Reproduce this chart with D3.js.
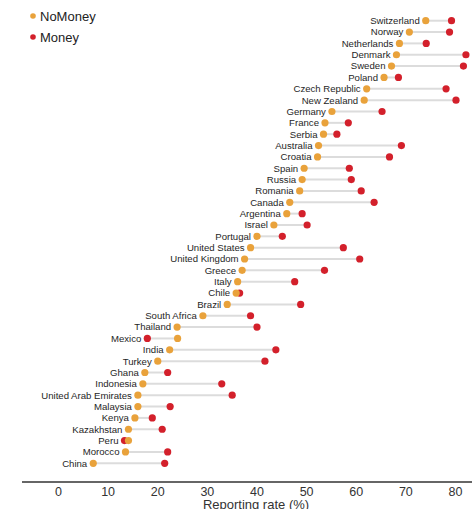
<!DOCTYPE html>
<html>
<head>
<meta charset="utf-8">
<script src="https://cdn.jsdelivr.net/npm/d3@7"></script>
<style>
  body { margin: 0; background: #fff; }
  svg { font-family: "Liberation Sans", Arial, sans-serif; }
</style>
</head>
<body>
<svg id="chart" width="472" height="509"></svg>
<script>
const countries = ["Switzerland", "Norway", "Netherlands", "Denmark", "Sweden", "Poland",
    "Czech Republic", "New Zealand", "Germany", "France", "Serbia", "Australia", "Croatia",
    "Spain", "Russia", "Romania", "Canada", "Argentina", "Israel", "Portugal", "United States",
    "United Kingdom", "Greece", "Italy", "Chile", "Brazil", "South Africa", "Thailand", "Mexico",
    "India", "Turkey", "Ghana", "Indonesia", "United Arab Emirates", "Malaysia", "Kenya",
    "Kazakhstan", "Peru", "Morocco", "China"];

const noMoney = [74.1, 70.8, 68.8, 68.2, 67.2, 65.7, 62.2, 61.7, 55.2, 53.8, 53.5, 52.5, 52.3,
    49.6, 49.2, 48.7, 46.7, 46.1, 43.5, 40.1, 38.8, 37.6, 37.1, 36.2, 35.9, 34.1, 29.2, 24.0, 24.1,
    22.5, 20.1, 17.5, 17.1, 16.1, 16.1, 15.5, 14.2, 14.2, 13.6, 7.1];

const money = [79.3, 78.9, 74.2, 82.2, 81.7, 68.6, 78.2, 80.2, 65.3, 58.5, 56.2, 69.2, 66.8,
    58.7, 59.1, 61.1, 63.7, 49.2, 50.2, 45.2, 57.5, 60.8, 53.7, 47.7, 36.6, 48.9, 38.8, 40.1, 18.0,
    43.9, 41.7, 22.1, 33.0, 35.1, 22.6, 19.0, 21.0, 13.4, 22.1, 21.5];

const xTicks = [0, 10, 20, 30, 40, 50, 60, 70, 80];

const colors = { NoMoney: "#e9a23b", Money: "#d3202b" };

const svg = d3.select("#chart");

const rows = countries.map((c, i) => ({ name: c, nm: noMoney[i], m: money[i] }));

const x = d3.scaleLinear().domain([0, 80]).range([58, 455]);
const y = d3.scalePoint().domain(countries).range([20.7, 463.3]);

// connecting lines
svg.append("g")
    .selectAll("line")
    .data(rows)
    .enter().append("line")
    .attr("x1", d => x(d.nm))
    .attr("x2", d => x(d.m))
    .attr("y1", d => y(d.name))
    .attr("y2", d => y(d.name))
    .attr("stroke", "#dcdcdc")
    .attr("stroke-width", 2);

// money dots first, nomoney on top
svg.append("g")
    .selectAll("circle")
    .data(rows)
    .enter().append("circle")
    .attr("cx", d => x(d.m))
    .attr("cy", d => y(d.name))
    .attr("r", 3.6)
    .attr("fill", colors.Money);

svg.append("g")
    .selectAll("circle")
    .data(rows)
    .enter().append("circle")
    .attr("cx", d => x(d.nm))
    .attr("cy", d => y(d.name))
    .attr("r", 3.6)
    .attr("fill", colors.NoMoney);

// country labels, left of the leftmost dot
svg.append("g")
    .selectAll("text")
    .data(rows)
    .enter().append("text")
    .attr("x", d => x(Math.min(d.nm, d.m)) - 6)
    .attr("y", d => y(d.name))
    .attr("dy", "0.35em")
    .attr("text-anchor", "end")
    .attr("font-size", 9.6)
    .attr("fill", "#262626")
    .text(d => d.name);

// x axis
const axis = svg.append("g")
    .attr("transform", "translate(0,482)")
    .call(d3.axisBottom(x).tickValues(xTicks).tickSize(0).tickPadding(5));
axis.select(".domain").remove();
axis.append("line")
    .attr("x1", 22).attr("x2", 472)
    .attr("stroke", "#333").attr("stroke-width", 1.5);
axis.selectAll("text")
    .attr("font-size", 12.5)
    .attr("fill", "#333")
    .attr("font-family", "Liberation Sans, Arial, sans-serif");

svg.append("text")
    .attr("x", 256)
    .attr("y", 509)
    .attr("text-anchor", "middle")
    .attr("font-size", 13)
    .attr("fill", "#333")
    .text("Reporting rate (%)");

// legend
const legend = svg.append("g")
    .selectAll("g")
    .data(["NoMoney", "Money"])
    .enter().append("g")
    .attr("transform", (d, i) => `translate(33,${16 + i * 21})`);
legend.append("circle")
    .attr("r", 2.8)
    .attr("fill", d => colors[d]);
legend.append("text")
    .attr("x", 7)
    .attr("dy", "0.36em")
    .attr("font-size", 13)
    .attr("fill", "#222")
    .text(d => d);
</script>
</body>
</html>
